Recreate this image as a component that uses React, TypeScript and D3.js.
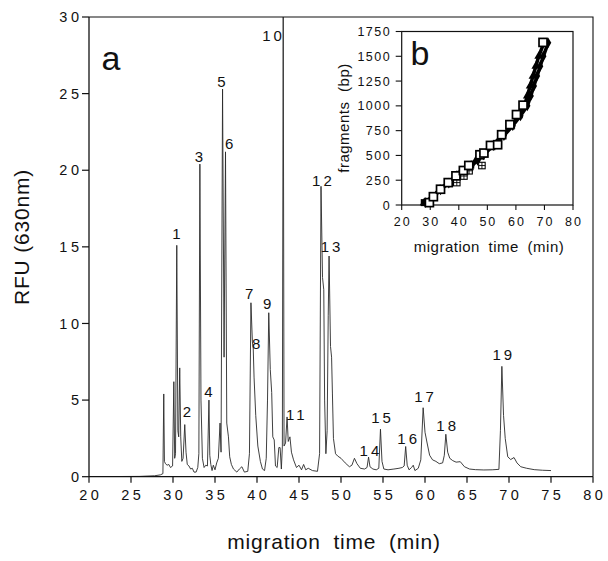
import React from "react";
import * as d3 from "d3";

// ---- main electropherogram (panel a) ----
const traceTime = [
  20, 26, 27.8, 28.5, 28.8, 28.9, 28.98, 29.1, 29.3, 29.5, 29.7, 29.95, 30.1, 30.2, 30.3, 30.45, 30.58, 30.68, 30.8, 30.92,
  31.05, 31.2, 31.4, 31.55, 31.7, 31.9, 32.1, 32.3, 32.5, 32.75, 32.95, 33.08, 33.2, 33.33, 33.5, 33.7, 33.9, 34.1, 34.28, 34.38,
  34.5, 34.65, 34.8, 35.0, 35.2, 35.4, 35.6, 35.72, 35.9, 36.08, 36.25, 36.4, 36.6, 36.75, 36.95, 37.2, 37.6, 37.9, 38.2, 38.5,
  38.9, 39.1, 39.28, 39.45, 39.55, 39.65, 39.85, 40.1, 40.4, 40.65, 40.9, 41.1, 41.25, 41.4, 41.58, 41.75, 41.88, 42.05, 42.2, 42.4,
  42.6, 42.75, 42.9, 43.02, 43.12, 43.22, 43.4, 43.58, 43.72, 43.92, 44.1, 44.35, 44.7, 45.0, 45.3, 45.55, 45.8, 46.1, 46.6, 47.2,
  47.45, 47.62, 47.8, 47.95, 48.05, 48.2, 48.35, 48.48, 48.58, 48.75, 48.88, 48.98, 49.1, 49.35, 49.6, 50.0, 50.5, 51.0, 51.3, 51.6,
  51.9, 52.3, 52.8, 53.1, 53.28, 53.45, 53.8, 54.2, 54.5, 54.7, 54.88, 55.1, 55.6, 56.3, 56.9, 57.3, 57.52, 57.7, 57.88, 58.1,
  58.4, 58.6, 58.8, 59.2, 59.5, 59.78, 60.0, 60.25, 60.55, 60.9, 61.3, 61.7, 62.1, 62.3, 62.48, 62.7, 62.95, 63.3, 63.7, 64.2,
  64.7, 65.3, 66.0, 67.0, 68.0, 68.8, 68.98, 69.15, 69.35, 69.55, 69.85, 70.2, 70.6, 70.95, 71.4, 72.1, 73.0, 74.0, 75.0,
];
const traceRFU = [
  0, 0.02, 0.06, 0.12, 0.2, 5.4, 1.0, 0.85, 0.75, 0.8, 0.6, 0.7, 6.2, 1.2, 1.5, 15.1, 3.0, 2.6, 7.1, 2.6,
  1.0, 1.2, 3.4, 1.6, 0.8, 0.7, 0.5, 0.55, 0.3, 0.3, 0.6, 1.5, 20.4, 5.0, 1.2, 0.6, 0.75, 0.7, 5.0, 1.4,
  0.8, 0.4, 0.75, 0.45, 0.9, 1.2, 3.5, 1.6, 25.3, 7.8, 21.2, 3.5, 2.6, 1.3, 0.8, 0.5, 0.3, 0.5, 0.65, 0.3,
  0.35, 1.5, 11.35, 8.8, 8.4, 6.5, 4.0, 2.0, 1.0, 0.5, 0.4, 1.2, 5.0, 10.7, 7.0, 5.5, 2.6, 2.4, 0.7, 0.6,
  1.9, 1.9, 0.5, 2.0, 31, 2.0, 2.2, 3.9, 2.3, 2.6, 1.6, 1.1, 0.6, 0.75, 0.45, 0.8, 0.45, 0.55, 0.4, 0.35,
  1.5, 18.95, 13.0, 12.2, 5.0, 1.5, 3.0, 10.5, 14.4, 8.5, 7.8, 5.4, 2.5, 1.5, 1.35, 1.2, 0.9, 0.65, 0.75, 1.2,
  0.85, 0.55, 0.5, 0.6, 1.28, 0.65, 0.5, 0.45, 0.55, 3.1, 1.0, 0.5, 0.45, 0.5, 0.55, 0.6, 0.7, 1.97, 0.75, 0.45,
  0.6, 0.75, 0.4, 0.55, 1.1, 4.5, 2.9, 2.2, 1.4, 1.1, 1.0, 0.85, 0.9, 1.4, 2.77, 1.6, 1.2, 1.05, 0.95, 0.98,
  0.65, 0.5, 0.46, 0.44, 0.45, 0.48, 3.0, 7.2, 4.0, 2.5, 1.3, 1.12, 1.25, 0.9, 0.65, 0.55, 0.46, 0.42, 0.4,
];

const peakLabels = ["1", "2", "3", "4", "5", "6", "7", "8", "9", "10", "11", "12", "13", "14", "15", "16", "17", "18", "19"];
const peakLabelTime = [30.42, 31.67, 33.1, 34.23, 35.76, 36.7, 39.07, 39.9, 41.2, 41.79, 44.57, 47.73, 48.75, 53.38, 54.77, 57.88, 59.88, 62.52, 69.2];
const peakLabelRFU = [15.85, 4.22, 20.87, 5.57, 25.8, 21.76, 11.94, 8.7, 11.32, 28.78, 4.05, 19.35, 15.0, 1.68, 3.85, 2.46, 5.22, 3.32, 7.96];

const xTicks = [20, 25, 30, 35, 40, 45, 50, 55, 60, 65, 70, 75, 80];
const yTicks = [0, 5, 10, 15, 20, 25, 30];

// ---- inset calibration (panel b) ----
const insetXTicks = [20, 30, 40, 50, 60, 70, 80];
const insetYTicks = [0, 250, 500, 750, 1000, 1250, 1500, 1750];

const openSqTime = [29.7, 31.1, 33.6, 36.3, 39.0, 41.6, 43.5, 47.4, 48.8, 51.1, 53.6, 55.0, 57.9, 60.2, 62.5, 69.5];
const openSqBp = [24, 84, 159, 226, 294, 348, 399, 507, 524, 601, 608, 709, 811, 912, 1007, 1640];

const crossSqTime = [39.3, 41.8, 43.6, 48.1];
const crossSqBp = [226, 292, 345, 398];

const runBp = [24, 75, 154, 220, 298, 344, 396, 450, 506, 600, 700, 800, 900, 1000, 1100, 1200, 1300, 1400, 1500, 1636];
const runATime = [27.9, 30.5, 33.2, 36.0, 39.3, 41.8, 44.0, 46.0, 48.0, 51.6, 55.2, 58.3, 61.0, 63.0, 64.0, 65.0, 66.0, 67.0, 68.0, 69.8];
const runBTime = [28.3, 30.9, 33.6, 36.5, 39.8, 42.3, 44.5, 46.6, 48.6, 52.2, 55.8, 58.9, 61.6, 64.0, 65.2, 66.3, 67.4, 68.5, 69.6, 71.3];

const FONT = "'Liberation Sans', Arial, Helvetica, sans-serif";

export default function App() {
  const W = 608, H = 561;
  const x = d3.scaleLinear().domain([20, 80]).range([89, 593]);
  const y = d3.scaleLinear().domain([0, 30]).range([476.7, 17]);
  const ix = d3.scaleLinear().domain([20, 80]).range([401.7, 573]);
  const iy = d3.scaleLinear().domain([0, 1750]).range([205, 31.5]);

  const trace = traceTime.map((t, i) => [t, traceRFU[i]] as [number, number]);
  const line = d3.line<[number, number]>().x((d) => x(d[0])).y((d) => y(d[1]));
  const iline = d3.line<[number, number]>().x((d) => ix(d[0])).y((d) => iy(d[1]));
  const runA = runATime.map((t, i) => [t, runBp[i]] as [number, number]);
  const runB = runBTime.map((t, i) => [t, runBp[i]] as [number, number]);
  const tri = d3.symbol(d3.symbolTriangle, 34)() as string;
  const dia = d3.symbol(d3.symbolDiamond, 34)() as string;

  const [x0, x1] = x.range();
  const [yb, yt] = y.range();
  const [ix0, ix1] = ix.range();
  const [iyb, iyt] = iy.range();
  const sq = 8;
  const csq = 6.5;

  return (
    <svg width={W} height={H} style={{ position: "absolute", left: 0, top: 0, background: "#fff" }} fontFamily={FONT}>
      <defs>
        <clipPath id="plotClip">
          <rect x={x0} y={yt} width={x1 - x0} height={yb - yt} />
        </clipPath>
      </defs>
      <rect x={0} y={0} width={W} height={H} fill="#fff" />

      {/* trace */}
      <path d={line(trace) || ""} fill="none" stroke="#2a2a2a" strokeWidth={0.9} clipPath="url(#plotClip)" />

      {/* frame & axes */}
      <path d={`M${x0},${yt}H${x1}V${yb}`} fill="none" stroke="#111" strokeWidth={1.1} />
      <line x1={x0} y1={yt} x2={x0} y2={yb} stroke="#111" strokeWidth={1.3} />
      <line x1={x0} y1={yb} x2={x1} y2={yb} stroke="#111" strokeWidth={1.3} />
      {yTicks.map((v) => (
        <g key={"yt" + v}>
          <line x1={x0 - 7} x2={x0} y1={y(v)} y2={y(v)} stroke="#111" strokeWidth={1.2} />
          <text x={x0 - 10} y={y(v)} dy="0.36em" dx={3.5} textAnchor="end" fontSize={14.5} letterSpacing={3.5} fill="#111">
            {v}
          </text>
        </g>
      ))}
      {xTicks.map((v) => (
        <g key={"xt" + v}>
          <line x1={x(v)} x2={x(v)} y1={yb} y2={yb + 6} stroke="#111" strokeWidth={1.2} />
          <text x={x(v)} y={yb + 23} dx={1.75} textAnchor="middle" fontSize={14.5} letterSpacing={3.5} fill="#111">
            {v}
          </text>
        </g>
      ))}
      <text
        transform={`translate(21.5,237) rotate(-90)`}
        dy="0.36em"
        textAnchor="middle"
        fontSize={21}
        letterSpacing={0.8}
        fill="#111"
      >
        RFU (630nm)
      </text>
      <text x={(x0 + x1) / 2 - 7} y={549} textAnchor="middle" fontSize={21} letterSpacing={0.8} wordSpacing={6} fill="#111">
        migration time (min)
      </text>
      <text x={111} y={58} dy="0.36em" textAnchor="middle" fontSize={34} fill="#111">
        a
      </text>

      {/* peak labels */}
      {peakLabels.map((lab, i) => (
        <text
          key={"pl" + i}
          x={x(peakLabelTime[i])}
          y={y(peakLabelRFU[i])}
          dy="0.36em"
          dx={lab.length > 1 ? 1.5 : 0}
          textAnchor="middle"
          fontSize={15}
          letterSpacing={lab.length > 1 ? 3 : 0}
          fill="#111"
        >
          {lab}
        </text>
      ))}

      {/* inset */}
      <rect x={ix0} y={iyt} width={ix1 - ix0} height={iyb - iyt} fill="#fff" stroke="#111" strokeWidth={1.2} />
      {insetYTicks.map((v) => (
        <g key={"iyt" + v}>
          <line x1={ix0 - 6} x2={ix0} y1={iy(v)} y2={iy(v)} stroke="#111" strokeWidth={1.1} />
          <text x={ix0 - 12} y={iy(v)} dy="0.36em" dx={1.5} textAnchor="end" fontSize={12.5} letterSpacing={1.5} fill="#111">
            {v}
          </text>
        </g>
      ))}
      {insetXTicks.map((v) => (
        <g key={"ixt" + v}>
          <line x1={ix(v)} x2={ix(v)} y1={iyb} y2={iyb + 5} stroke="#111" strokeWidth={1.1} />
          <text x={ix(v)} y={iyb + 21} dx={1} textAnchor="middle" fontSize={12.5} letterSpacing={2} fill="#111">
            {v}
          </text>
        </g>
      ))}
      <text
        transform={`translate(344,${118}) rotate(-90)`}
        dy="0.36em"
        textAnchor="middle"
        fontSize={15}
        letterSpacing={0.5}
        wordSpacing={5}
        fill="#111"
      >
        fragments (bp)
      </text>
      <text x={489} y={252} textAnchor="middle" fontSize={15} letterSpacing={0.5} wordSpacing={4} fill="#111">
        migration time (min)
      </text>
      <text x={420} y={53} dy="0.36em" textAnchor="middle" fontSize={34} fill="#111">
        b
      </text>

      {/* black runs */}
      <path d={iline(runA) || ""} fill="none" stroke="#000" strokeWidth={3.5} />
      <path d={iline(runB) || ""} fill="none" stroke="#000" strokeWidth={3.5} />
      {runA.map((d, i) => (
        <path key={"ra" + i} d={tri} transform={`translate(${ix(d[0])},${iy(d[1])})`} fill="#000" />
      ))}
      {runB.map((d, i) => (
        <path key={"rb" + i} d={dia} transform={`translate(${ix(d[0])},${iy(d[1])})`} fill="#000" />
      ))}
      <rect x={ix(runATime[0]) - 3.5} y={iy(runBp[0]) - 3.5} width={7} height={7} fill="#000" />

      {/* crossed squares */}
      {crossSqTime.map((t, i) => {
        const cx = ix(t), cy = iy(crossSqBp[i]);
        return (
          <g key={"cs" + i}>
            <rect x={cx - csq / 2} y={cy - csq / 2} width={csq} height={csq} fill="#fff" stroke="#000" strokeWidth={1.1} />
            <line x1={cx} x2={cx} y1={cy - csq / 2} y2={cy + csq / 2} stroke="#000" strokeWidth={0.9} />
            <line x1={cx - csq / 2} x2={cx + csq / 2} y1={cy} y2={cy} stroke="#000" strokeWidth={0.9} />
          </g>
        );
      })}

      {/* open squares */}
      {openSqTime.map((t, i) => (
        <rect
          key={"os" + i}
          x={ix(t) - sq / 2}
          y={iy(openSqBp[i]) - sq / 2}
          width={sq}
          height={sq}
          fill="#fff"
          stroke="#000"
          strokeWidth={1.7}
        />
      ))}
    </svg>
  );
}
